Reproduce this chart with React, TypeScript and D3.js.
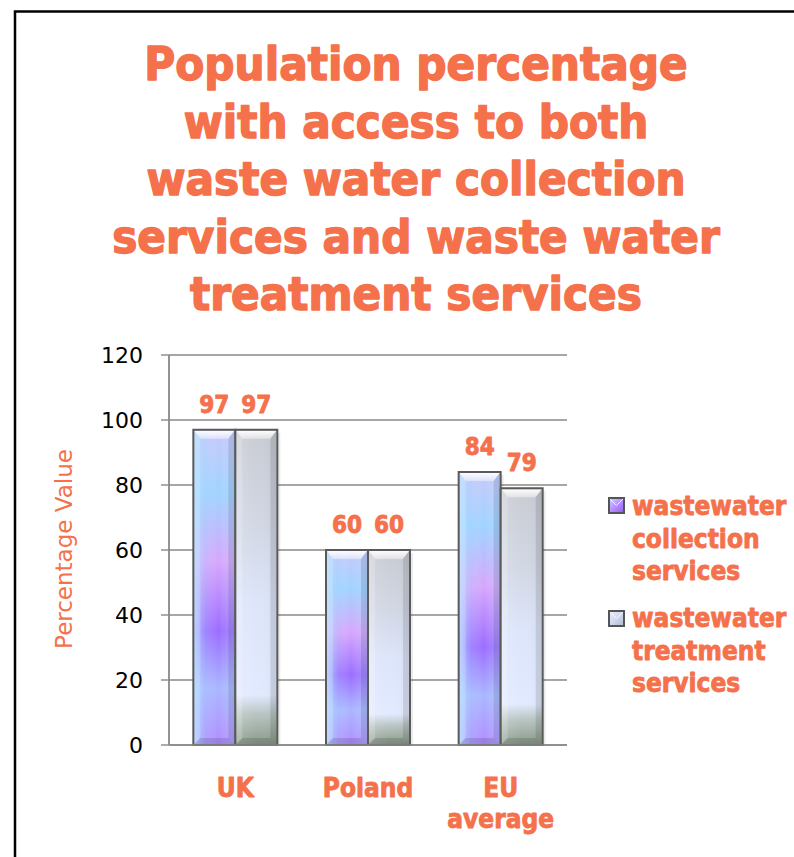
import React from "react";
import * as d3 from "d3";

const titleLines = [
  "Population percentage",
  "with access to both",
  "waste water collection",
  "services and waste water",
  "treatment services",
];
const categories = ["UK", "Poland", "EU average"];
const categoryLabelLines = [["UK"], ["Poland"], ["EU", "average"]];
const seriesNames = ["wastewater collection services", "wastewater treatment services"];
const legendLines = [
  ["wastewater", "collection", "services"],
  ["wastewater", "treatment", "services"],
];
const collectionValues = [97, 60, 84];
const treatmentValues = [97, 60, 79];
const yTicks = [0, 20, 40, 60, 80, 100, 120];

const ORANGE = "#F4714B";
const BOLD_FONT = "'DejaVu Sans Condensed', 'DejaVu Sans', Verdana, sans-serif";
const REG_FONT = "'DejaVu Sans', Verdana, sans-serif";

export default function App() {
  const W = 794;
  const H = 857;
  const plotLeft = 169;
  const plotRight = 567;
  const plotTop = 355;
  const plotBottom = 745;

  const y = d3.scaleLinear().domain([0, 120]).range([plotBottom, plotTop]);
  const x = d3.scaleBand<string>().domain(categories).range([plotLeft, plotRight]).padding(0);
  const groupW = 84;
  const xs = d3
    .scaleBand<number>()
    .domain([0, 1])
    .range([-groupW / 2, groupW / 2])
    .padding(0);

  const series = [collectionValues, treatmentValues];
  const fills = ["url(#gradCollection)", "url(#gradTreatment)"];

  const boldProps = {
    fontFamily: BOLD_FONT,
    fontWeight: "bold" as const,
    fill: ORANGE,
    stroke: ORANGE,
    strokeLinejoin: "round" as const,
  };

  const bars: React.ReactNode[] = [];
  const labels: React.ReactNode[] = [];
  categories.forEach((c, ci) => {
    const cx = (x(c) as number) + x.bandwidth() / 2;
    series.forEach((vals, si) => {
      const v = vals[ci];
      const bx = cx + (xs(si) as number);
      const bw = xs.bandwidth();
      const by = y(v);
      const bh = plotBottom - by;
      const b = 7;
      bars.push(
        <g key={`bar-${ci}-${si}`}>
          <rect x={bx + 3} y={by + 3} width={bw} height={bh - 3} fill="#000" opacity={0.08} />
          <rect x={bx} y={by} width={bw} height={bh} fill={fills[si]} />
          {si === 0 && <rect x={bx} y={by} width={bw} height={bh} fill="url(#gradCollH)" />}
          {si === 1 && <rect x={bx} y={by} width={bw} height={bh} fill="url(#gradTreatH)" />}
          <polygon
            points={`${bx + 1},${by + 1} ${bx + bw - 1},${by + 1} ${bx + bw - b},${by + b + 2} ${bx + b},${by + b + 2}`}
            fill="url(#bevelTop)"
          />
          <polygon
            points={`${bx + 1},${by + 1} ${bx + b},${by + b + 2} ${bx + b},${plotBottom - b} ${bx + 1},${plotBottom - 1}`}
            fill="#ffffff"
            opacity={0.18}
          />
          <polygon
            points={`${bx + bw - 1},${by + 1} ${bx + bw - b},${by + b + 2} ${bx + bw - b},${plotBottom - b} ${bx + bw - 1},${plotBottom - 1}`}
            fill="#000000"
            opacity={0.1}
          />
          <polygon
            points={`${bx + 1},${plotBottom - 1} ${bx + b},${plotBottom - b} ${bx + bw - b},${plotBottom - b} ${bx + bw - 1},${plotBottom - 1}`}
            fill="#000000"
            opacity={0.12}
          />
          <rect x={bx} y={by} width={bw} height={bh} fill="none" stroke="#5a5a5a" strokeWidth={2} />
        </g>
      );
      labels.push(
        <text
          key={`lab-${ci}-${si}`}
          x={bx + bw / 2}
          y={by - 17}
          textAnchor="middle"
          fontSize={24}
          strokeWidth={0.8}
          {...boldProps}
        >
          {v}
        </text>
      );
    });
  });

  return (
    <svg
      width={W}
      height={H}
      viewBox={`0 0 ${W} ${H}`}
      style={{ position: "absolute", left: 0, top: 0, display: "block", background: "#fff" }}
    >
      <defs>
        <linearGradient id="gradCollection" x1="0" y1="0" x2="0" y2="1">
          <stop offset="0" stopColor="#c8c8fa" />
          <stop offset="0.2" stopColor="#9fd3ff" />
          <stop offset="0.42" stopColor="#d6a6fc" />
          <stop offset="0.64" stopColor="#9b6dff" />
          <stop offset="0.82" stopColor="#a9b6ff" />
          <stop offset="1" stopColor="#b08cff" />
        </linearGradient>
        <linearGradient id="gradCollH" x1="0" y1="0" x2="1" y2="0">
          <stop offset="0" stopColor="#b0dcff" stopOpacity={0.85} />
          <stop offset="0.3" stopColor="#b0dcff" stopOpacity={0.2} />
          <stop offset="0.6" stopColor="#ffffff" stopOpacity={0} />
          <stop offset="1" stopColor="#a0c8ff" stopOpacity={0.3} />
        </linearGradient>
        <linearGradient id="gradTreatment" x1="0" y1="0" x2="0" y2="1">
          <stop offset="0" stopColor="#c9ccd3" />
          <stop offset="0.3" stopColor="#d2d7e4" />
          <stop offset="0.55" stopColor="#dde5fa" />
          <stop offset="0.84" stopColor="#e2eaff" />
          <stop offset="0.9" stopColor="#bac6c4" />
          <stop offset="1" stopColor="#899a88" />
        </linearGradient>
        <linearGradient id="gradTreatH" x1="0" y1="0" x2="1" y2="0">
          <stop offset="0" stopColor="#ffffff" stopOpacity={0.15} />
          <stop offset="0.5" stopColor="#ffffff" stopOpacity={0} />
          <stop offset="1" stopColor="#000000" stopOpacity={0.04} />
        </linearGradient>
        <linearGradient id="bevelTop" x1="0" y1="0" x2="0" y2="1">
          <stop offset="0" stopColor="#ffffff" stopOpacity={0.95} />
          <stop offset="1" stopColor="#ffffff" stopOpacity={0.4} />
        </linearGradient>
        <linearGradient id="legCollection" x1="0" y1="0" x2="1" y2="1">
          <stop offset="0" stopColor="#c8d8ff" />
          <stop offset="0.5" stopColor="#b890ff" />
          <stop offset="1" stopColor="#8a5cf0" />
        </linearGradient>
        <linearGradient id="legTreatment" x1="0" y1="0" x2="1" y2="1">
          <stop offset="0" stopColor="#e8eeff" />
          <stop offset="0.5" stopColor="#d0d8f0" />
          <stop offset="1" stopColor="#b0b8cc" />
        </linearGradient>
      </defs>

      <rect x={15} y={11.5} width={W + 20} height={H + 20} fill="none" stroke="#000" strokeWidth={2.5} />

      {titleLines.map((t, i) => (
        <text
          key={`t-${i}`}
          x={416}
          y={80 + i * 57.5}
          textAnchor="middle"
          fontSize={47}
          strokeWidth={1.4}
          {...boldProps}
        >
          {t}
        </text>
      ))}

      {yTicks.map((t) => (
        <g key={`g-${t}`}>
          <line x1={plotLeft} x2={plotRight} y1={y(t)} y2={y(t)} stroke="#888" strokeWidth={1.4} />
          <line x1={161} x2={plotLeft} y1={y(t)} y2={y(t)} stroke="#888" strokeWidth={1.4} />
          <text
            x={143}
            y={y(t)}
            dy="0.36em"
            textAnchor="end"
            fontFamily={REG_FONT}
            fontSize={22}
            fill="#000"
          >
            {t}
          </text>
        </g>
      ))}
      <line x1={plotLeft} x2={plotLeft} y1={plotTop} y2={plotBottom} stroke="#888" strokeWidth={1.8} />

      {bars}
      <line x1={plotLeft} x2={plotRight} y1={plotBottom} y2={plotBottom} stroke="#888" strokeWidth={1.6} />
      {labels}

      <text
        transform={`translate(72, 549) rotate(-90)`}
        textAnchor="middle"
        fontFamily={REG_FONT}
        fontSize={23}
        fill={ORANGE}
      >
        Percentage Value
      </text>

      {categories.map((c, ci) => {
        const cx = (x(c) as number) + x.bandwidth() / 2;
        return categoryLabelLines[ci].map((ln, li) => (
          <text
            key={`c-${ci}-${li}`}
            x={cx}
            y={797 + li * 31}
            textAnchor="middle"
            fontSize={26}
            strokeWidth={0.8}
            {...boldProps}
          >
            {ln}
          </text>
        ));
      })}

      {seriesNames.map((s, si) => {
        const top = si === 0 ? 498 : 611;
        const base = si === 0 ? 515 : 627;
        return (
          <g key={`leg-${si}`}>
            <rect
              x={609}
              y={top}
              width={15}
              height={15}
              fill={si === 0 ? "url(#legCollection)" : "url(#legTreatment)"}
              stroke="#555"
              strokeWidth={2}
            />
            <polyline
              points={`${610},${top + 1} ${616.5},${top + 7.5} ${623},${top + 1}`}
              fill="none"
              stroke="#fff"
              strokeWidth={1}
              opacity={0.8}
            />
            {legendLines[si].map((ln, li) => (
              <text
                key={`ll-${si}-${li}`}
                x={632}
                y={base + li * 32.5}
                fontSize={26}
                strokeWidth={0.8}
                {...boldProps}
              >
                {ln}
              </text>
            ))}
          </g>
        );
      })}
    </svg>
  );
}
